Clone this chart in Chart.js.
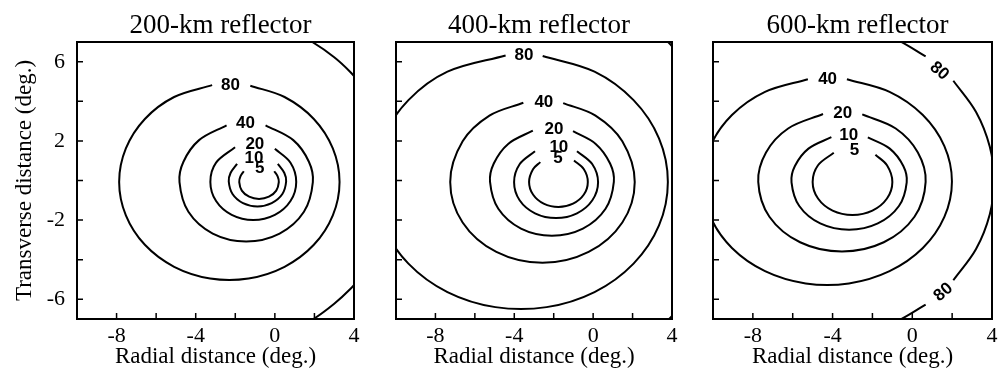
<!DOCTYPE html>
<html>
<head>
<meta charset="utf-8">
<script src="https://cdn.jsdelivr.net/npm/chart.js@4.4.0/dist/chart.umd.min.js"></script>
<style>
  html, body { margin: 0; padding: 0; background: #fff; }
  #wrap { position: relative; width: 1001px; height: 370px; }
  canvas { position: absolute; top: 0; }
</style>
</head>
<body>
<div id="wrap">
  <canvas id="c200" width="368" height="370" style="left:0px"></canvas>
  <canvas id="c400" width="305" height="370" style="left:380px"></canvas>
  <canvas id="c600" width="301" height="370" style="left:700px"></canvas>
</div>
<script>
// panel titles and axis ticks
const titles = ['200-km reflector', '400-km reflector', '600-km reflector'];
const xTickLabels = [-8, -4, 0, 4];
const yTickLabels = [6, 2, -2, -6];
const xTickMarks = [-8, -6, -4, -2, 0, 2];
const yTickMarks = [-6, -4, -2, 0, 2, 4, 6];

// contour traces, [radial, transverse] in degrees
// 200-km reflector
const p200_c5 = [[-0.03,0.47],[0.14,0.21],[0.20,-0.08],[0.07,-0.51],[-0.30,-0.82],[-0.80,-0.93],[-1.30,-0.82],[-1.67,-0.51],[-1.80,-0.08],[-1.74,0.21],[-1.57,0.47]];
const p200_c10 = [[0.15,0.84],[0.48,0.38],[0.57,-0.05],[0.38,-0.68],[-0.16,-1.14],[-0.88,-1.31],[-1.61,-1.14],[-2.14,-0.68],[-2.33,-0.05],[-2.24,0.38],[-1.91,0.84]];
const p200_c20 = [[0.0,1.60],[0.79,0.90],[1.08,-0.07],[0.79,-1.04],[0.0,-1.74],[-1.09,-2.0],[-2.18,-1.74],[-2.97,-1.04],[-3.26,-0.07],[-2.97,0.90],[-2.01,1.68]];
const p200_c40 = [[-0.47,2.79],[0.93,2.04],[1.72,0.95],[1.92,-0.08],[1.47,-1.58],[0.24,-2.68],[-1.45,-3.08],[-3.14,-2.68],[-4.37,-1.58],[-4.82,-0.08],[-4.62,0.95],[-3.83,2.04],[-2.44,2.79]];
const p200_c80 = [[-1.24,4.79],[0.49,4.22],[1.97,3.11],[2.93,1.62],[3.27,-0.07],[2.93,-1.76],[1.97,-3.25],[0.49,-4.36],[-1.33,-4.95],[-3.27,-4.95],[-5.09,-4.36],[-6.57,-3.25],[-7.53,-1.76],[-7.87,-0.07],[-7.53,1.62],[-6.57,3.11],[-5.09,4.22],[-3.17,4.82]];
const p200_outerTop = [[0.8,7.56],[1.89,7.0],[3.0,6.23],[3.8,5.50],[4.3,4.92]];
const p200_outerBot = [[0.8,-7.56],[1.95,-7.0],[3.0,-6.23],[3.8,-5.50],[4.3,-4.92]];
const p200_labels = [['80',-2.24,4.87,0],['40',-1.48,2.92,0],['20',-1.01,1.86,0],['10',-1.06,1.18,0],['5',-0.76,0.68,0]];

// 400-km reflector
const p400_c5 = [[-0.97,1.01],[-0.47,0.57],[-0.27,-0.07],[-0.47,-0.71],[-1.02,-1.17],[-1.76,-1.34],[-2.51,-1.17],[-3.05,-0.71],[-3.25,-0.07],[-3.05,0.57],[-2.68,0.93]];
const p400_c10 = [[-0.82,1.48],[-0.04,0.82],[0.25,-0.09],[-0.04,-1.0],[-0.82,-1.66],[-1.88,-1.90],[-2.95,-1.66],[-3.73,-1.0],[-4.01,-0.09],[-3.73,0.82],[-2.95,1.48]];
const p400_c20 = [[-1.02,2.49],[0.13,1.85],[0.86,0.86],[1.05,-0.07],[0.63,-1.43],[-0.52,-2.43],[-2.09,-2.79],[-3.66,-2.43],[-4.81,-1.43],[-5.23,-0.07],[-5.04,0.86],[-4.31,1.85],[-3.06,2.52]];
const p400_c40 = [[-1.52,3.91],[0.12,3.28],[1.48,1.98],[2.11,-0.07],[1.48,-2.12],[-0.23,-3.61],[-2.57,-4.16],[-4.91,-3.61],[-6.62,-2.12],[-7.25,-0.07],[-6.62,1.98],[-5.26,3.28],[-3.54,3.93]];
const p400_c80 = [[-2.56,6.29],[0.07,5.50],[2.05,4.06],[3.34,2.13],[3.79,-0.07],[3.34,-2.27],[2.05,-4.20],[0.07,-5.64],[-2.36,-6.40],[-4.96,-6.40],[-7.39,-5.64],[-9.37,-4.20],[-10.66,-2.27],[-11.11,-0.07],[-10.66,2.13],[-9.37,4.06],[-7.39,5.50],[-4.44,6.32]];
const p400_outerTop = [[3.3,7.4],[3.8,7.0],[4.3,6.45]];
const p400_outerBot = [[3.3,-7.45],[3.85,-7.0],[4.3,-6.5]];
const p400_labels = [['80',-3.51,6.36,0],['40',-2.50,4.02,0],['20',-1.99,2.65,0],['10',-1.74,1.72,0],['5',-1.79,1.18,0]];

// 600-km reflector
const p600_c5 = [[-1.85,1.30],[-1.27,0.77],[-1.0,-0.07],[-1.27,-0.91],[-2.0,-1.52],[-3.0,-1.74],[-4.0,-1.52],[-4.73,-0.91],[-5.0,-0.07],[-4.73,0.77],[-3.94,1.40]];
const p600_c10 = [[-2.23,2.18],[-1.13,1.61],[-0.45,0.73],[-0.28,-0.09],[-0.67,-1.29],[-1.73,-2.17],[-3.17,-2.49],[-4.62,-2.17],[-5.67,-1.29],[-6.06,-0.09],[-5.89,0.73],[-5.21,1.61],[-4.06,2.19]];
const p600_c20 = [[-2.51,3.34],[-0.83,2.63],[0.28,1.42],[0.67,-0.07],[0.11,-1.83],[-1.43,-3.12],[-3.53,-3.59],[-5.63,-3.12],[-7.17,-1.83],[-7.73,-0.07],[-7.34,1.42],[-6.23,2.63],[-4.48,3.36]];
const p600_c40 = [[-3.28,5.12],[-1.14,4.48],[0.53,3.31],[1.61,1.74],[1.99,-0.05],[1.61,-1.84],[0.53,-3.41],[-1.14,-4.58],[-3.18,-5.20],[-5.35,-5.20],[-7.39,-4.58],[-9.05,-3.41],[-10.13,-1.84],[-10.51,-0.05],[-10.13,1.74],[-9.05,3.31],[-7.39,4.48],[-5.24,5.12]];
const p600_c80a = [[-3.83,8.06],[-2.22,7.69],[-0.70,7.08],[0.67,6.27]];
const p600_c80b = [[2.06,5.04],[3.20,3.46],[3.89,1.70],[4.10,0],[3.89,-1.70],[3.20,-3.46],[2.06,-5.04]];
const p600_c80c = [[0.67,-6.27],[-0.70,-7.08],[-2.22,-7.69],[-3.83,-8.06]];
const p600_labels = [['40',-4.25,5.18,0],['20',-3.49,3.46,0],['10',-3.19,2.31,0],['5',-2.90,1.60,0],['80',1.39,5.57,41],['80',1.53,-5.61,-41]];

const SERIF = '"Liberation Serif", "Times New Roman", serif';

function framePlugin(title, labels) {
    return {
        id: 'frame',
        afterDatasetsDraw(chart) {
            const {ctx, chartArea: a, scales: {x, y}} = chart;
            ctx.save();
            ctx.strokeStyle = '#000';
            // inward tick marks
            ctx.lineWidth = 1.5;
            ctx.beginPath();
            xTickMarks.forEach(v => {
                const px = x.getPixelForValue(v);
                ctx.moveTo(px, a.bottom);
                ctx.lineTo(px, a.bottom - 6);
            });
            yTickMarks.forEach(v => {
                const py = y.getPixelForValue(v);
                ctx.moveTo(a.left, py);
                ctx.lineTo(a.left + 6, py);
            });
            ctx.stroke();
            ctx.lineWidth = 2;
            ctx.strokeRect(a.left, a.top, a.right - a.left, a.bottom - a.top);

            // contour labels
            ctx.fillStyle = '#000';
            ctx.font = 'bold 17px "Liberation Sans"';
            ctx.textAlign = 'center';
            ctx.textBaseline = 'middle';
            labels.forEach(([t, lx, ly, rot]) => {
                ctx.save();
                ctx.translate(x.getPixelForValue(lx), y.getPixelForValue(ly));
                ctx.rotate(rot * Math.PI / 180);
                ctx.fillText(t, 0, 1);
                ctx.restore();
            });

            // panel title
            ctx.font = '27px ' + SERIF;
            ctx.textBaseline = 'alphabetic';
            ctx.fillText(title, (a.left + a.right) / 2 + 5, 33);
            ctx.restore();
        }
    };
}

function render_panel(canvas_id, title, traces, labels, padLeft, padRight, withYAxis) {
    const ctx = document.getElementById(canvas_id).getContext('2d');
    const datasets = traces.map(tr => ({
        data: tr.map(([x, y]) => ({x, y})),
        borderColor: '#000',
        borderWidth: 2,
        pointRadius: 0,
        tension: 0.34,   // ~circular arcs between samples
        fill: false,
    }));
    const yAxis = withYAxis ? {
        type: 'linear', min: -7, max: 7,
        afterBuildTicks: s => { s.ticks = yTickLabels.map(v => ({value: v})); },
        afterFit: s => { s.width = 77; },
        grid: {display: false},
        border: {display: false},
        ticks: {color: '#000', font: {family: SERIF, size: 22}, padding: 4},
        title: {
            display: true, text: 'Transverse distance (deg.)', color: '#000',
            font: {family: SERIF, size: 23}, padding: {top: 11, bottom: 0}
        },
    } : {
        type: 'linear', min: -7, max: 7,
        afterFit: s => { s.width = 0; },
        grid: {display: false},
        border: {display: false},
        ticks: {display: false},
    };
    return new Chart(ctx, {
        type: 'line',
        data: {datasets},
        options: {
            responsive: false,
            animation: false,
            events: [],
            layout: {padding: {top: 42, left: padLeft, right: padRight, bottom: 0}},
            elements: {line: {tension: 0.34, capBezierPoints: false}},
            plugins: {legend: {display: false}, tooltip: {enabled: false}, title: {display: false}},
            scales: {
                x: {
                    type: 'linear', min: -10, max: 4,
                    afterBuildTicks: s => { s.ticks = xTickLabels.map(v => ({value: v})); },
                    afterFit: s => { s.height = 51; },
                    grid: {display: false},
                    border: {display: false},
                    ticks: {color: '#000', font: {family: SERIF, size: 22}, padding: -4, maxRotation: 0, autoSkip: false},
                    title: {
                        display: true, text: 'Radial distance (deg.)', color: '#000',
                        font: {family: SERIF, size: 23}, padding: {top: 0, bottom: -1}
                    },
                },
                y: yAxis,
            },
        },
        plugins: [framePlugin(title, labels)],
    });
}

render_panel('c200', titles[0],
    [p200_c5, p200_c10, p200_c20, p200_c40, p200_c80, p200_outerTop, p200_outerBot],
    p200_labels, 0, 14, true);
render_panel('c400', titles[1],
    [p400_c5, p400_c10, p400_c20, p400_c40, p400_c80, p400_outerTop, p400_outerBot],
    p400_labels, 16, 13, false);
render_panel('c600', titles[2],
    [p600_c5, p600_c10, p600_c20, p600_c40, p600_c80a, p600_c80b, p600_c80c],
    p600_labels, 13, 9, false);
</script>
</body>
</html>
